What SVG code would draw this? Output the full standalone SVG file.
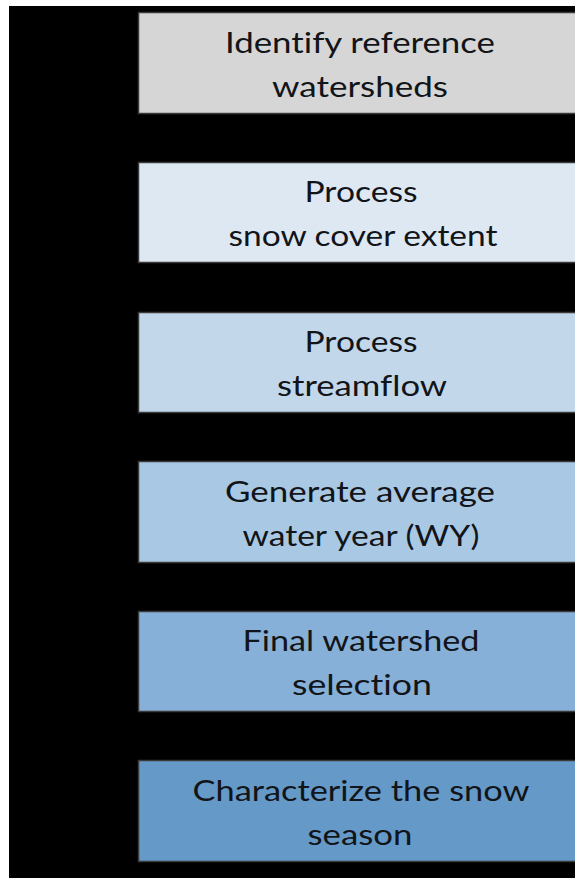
<svg xmlns="http://www.w3.org/2000/svg" width="575" height="878" viewBox="0 0 575 878">
<style>
.box{stroke:#3a3a3a;stroke-width:1.5}
.t{font-family:Lato,"Open Sans","Liberation Sans",sans-serif;font-size:29.5px;fill:#111418;text-anchor:middle;font-variant-ligatures:none;font-feature-settings:"liga" 0}
</style>
<rect x="0" y="0" width="575" height="878" fill="#ffffff"/>
<rect x="9" y="6" width="566" height="872" fill="#000000"/>
<g id="connectors"></g>
<g id="node1">
<rect class="box" x="138.5" y="12.5" width="445" height="101" fill="#d6d6d6"/>
<text class="t" x="360" y="53" textLength="270" lengthAdjust="spacingAndGlyphs">Identify reference</text>
<text class="t" x="360" y="97" textLength="176" lengthAdjust="spacingAndGlyphs">watersheds</text>
</g>
<g id="node2">
<rect class="box" x="138.5" y="162.5" width="445" height="100" fill="#dee8f3"/>
<text class="t" x="361" y="202" textLength="113" lengthAdjust="spacingAndGlyphs">Process</text>
<text class="t" x="363" y="246" textLength="269" lengthAdjust="spacingAndGlyphs">snow cover extent</text>
</g>
<g id="node3">
<rect class="box" x="138.5" y="312.5" width="445" height="100" fill="#c3d7ea"/>
<text class="t" x="361" y="352" textLength="113" lengthAdjust="spacingAndGlyphs">Process</text>
<text class="t" x="362" y="396" textLength="170" lengthAdjust="spacingAndGlyphs">streamflow</text>
</g>
<g id="node4">
<rect class="box" x="138.5" y="461.5" width="445" height="101" fill="#a9c8e4"/>
<text class="t" x="360" y="502" textLength="270" lengthAdjust="spacingAndGlyphs">Generate average</text>
<text class="t" x="361" y="546" textLength="237" lengthAdjust="spacingAndGlyphs">water year (WY)</text>
</g>
<g id="node5">
<rect class="box" x="138.5" y="611.5" width="445" height="100" fill="#86b0d7"/>
<text class="t" x="361" y="651" textLength="237" lengthAdjust="spacingAndGlyphs">Final watershed</text>
<text class="t" x="362" y="695" textLength="140" lengthAdjust="spacingAndGlyphs">selection</text>
</g>
<g id="node6">
<rect class="box" x="138.5" y="760.5" width="445" height="101" fill="#6599c7"/>
<text class="t" x="361" y="801" textLength="337" lengthAdjust="spacingAndGlyphs">Characterize the snow</text>
<text class="t" x="360" y="845" textLength="105" lengthAdjust="spacingAndGlyphs">season</text>
</g>
</svg>
